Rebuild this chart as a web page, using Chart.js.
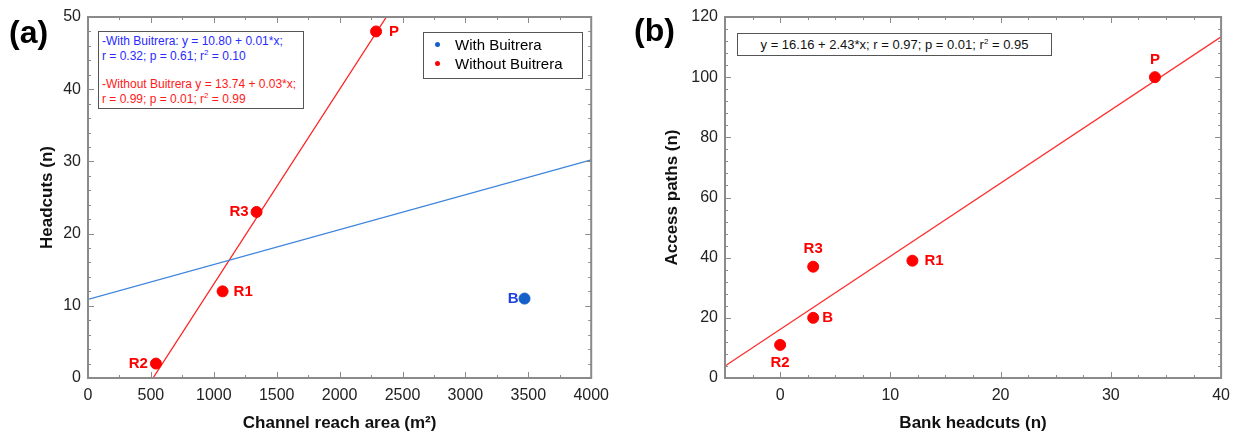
<!DOCTYPE html>
<html>
<head>
<meta charset="utf-8">
<script src="https://cdn.jsdelivr.net/npm/chart.js@4.4.0/dist/chart.umd.min.js"></script>
<style>
  body { margin: 0; background: #fff; font-family: "Liberation Sans", Arial, sans-serif; }
  #wrap { position: relative; width: 1238px; height: 438px; overflow: hidden; }
  canvas { position: absolute; top: 0; }
  .panel { position: absolute; font-weight: bold; font-size: 32px; line-height: 32px; color: #000; }
  .note { position: absolute; border: 1px solid #555; background: #fff; white-space: nowrap; }
  .note sup { font-size: 8px; vertical-align: 5px; line-height: 0; }
  .legend { position: absolute; border: 1px solid #555; background: #fff; font-size: 15px; }
  .legend div { position: relative; height: 19px; line-height: 19px; padding-left: 31px; }
  .legend span { position: absolute; left: 11px; top: 7px; width: 5px; height: 5px; border-radius: 50%; }
</style>
</head>
<body>
<div id="wrap">
  <canvas id="chartA" width="617" height="438" style="left:0"></canvas>
  <canvas id="chartB" width="618" height="438" style="left:620px"></canvas>

  <div class="panel" style="left:9px;top:16px">(a)</div>
  <div class="panel" style="left:634px;top:14px">(b)</div>

  <div class="note" style="left:98px;top:31px;width:204px;height:76px;font-size:12px;line-height:15px">
    <div style="color:#2a2aff;padding:2px 0 0 3px">-With Buitrera: y = 10.80 + 0.01*x;<br>r = 0.32; p = 0.61; r<sup>2</sup> = 0.10</div>
    <div style="color:#ff1a1a;padding:13px 0 0 3px">-Without Buitrera y = 13.74 + 0.03*x;<br>r = 0.99; p = 0.01; r<sup>2</sup> = 0.99</div>
  </div>

  <div class="legend" style="left:423px;top:32px;width:158px;height:43px;padding-top:2px">
    <div><span style="background:#1560c8"></span>With Buitrera</div>
    <div><span style="background:#ff0000"></span>Without Buitrera</div>
  </div>

  <div class="note" style="left:737px;top:33px;width:313px;height:21px;font-size:13px;line-height:21px;text-align:center;color:#111">
    y = 16.16 + 2.43*x; r = 0.97; p = 0.01; r<sup>2</sup> = 0.95
  </div>
</div>

<script>
// (a) headcuts vs channel reach area
var withNames = ["B"];
var withX = [3470];
var withY = [11];
var withoutNames = ["P", "R3", "R1", "R2"];
var withoutX = [2290, 1340, 1070, 540];
var withoutY = [48, 23, 12, 2];
var fitWithX = [0, 4000];
var fitWithY = [10.9, 30.2];
var fitWithoutX = [517, 2372];
var fitWithoutY = [0, 50];
var xTicksA = [0, 500, 1000, 1500, 2000, 2500, 3000, 3500, 4000];
var yTicksA = [0, 10, 20, 30, 40, 50];

// (b) access paths vs bank headcuts
var siteNames = ["R2", "B", "R3", "R1", "P"];
var headcutsX = [0, 3, 3, 12, 34];
var pathsY = [11, 20, 37, 39, 100];
var fitBX = [-5, 40];
var fitBY = [4, 113.4];
var xTicksB = [0, 10, 20, 30, 40];
var yTicksB = [0, 20, 40, 60, 80, 100, 120];

function pts(xs, ys) {
  return xs.map(function (x, i) { return { x: x, y: ys[i] }; });
}

// frame around plot area with inward major/minor ticks on all sides
var frameTicks = {
  id: "frameTicks",
  afterDraw: function (chart, args, opts) {
    var c = chart.ctx, a = chart.chartArea;
    var xs = chart.scales.x, ys = chart.scales.y;
    c.save();
    c.strokeStyle = "#8a8a8a";
    c.lineWidth = 1;
    c.beginPath();
    var v, p, len;
    for (v = xs.min; v <= xs.max + 1e-9; v += opts.xMinor) {
      p = Math.round(xs.getPixelForValue(v)) + 0.5;
      len = Math.abs(v / opts.xMajor - Math.round(v / opts.xMajor)) < 1e-6 ? 6 : 3;
      c.moveTo(p, a.bottom); c.lineTo(p, a.bottom - len);
      c.moveTo(p, a.top); c.lineTo(p, a.top + len);
    }
    for (v = ys.min; v <= ys.max + 1e-9; v += opts.yMinor) {
      p = Math.round(ys.getPixelForValue(v)) + 0.5;
      len = Math.abs(v / opts.yMajor - Math.round(v / opts.yMajor)) < 1e-6 ? 6 : 3;
      c.moveTo(a.left, p); c.lineTo(a.left + len, p);
      c.moveTo(a.right, p); c.lineTo(a.right - len, p);
    }
    c.stroke();
    c.lineWidth = 2;
    c.strokeStyle = "#8a8a8a";
    c.strokeRect(a.left, a.top, a.right - a.left, a.bottom - a.top);
    c.restore();
  }
};

// site names next to points
var siteLabels = {
  id: "siteLabels",
  afterDatasetsDraw: function (chart) {
    var c = chart.ctx;
    c.save();
    c.font = "bold 15px 'Liberation Sans', Arial, sans-serif";
    c.textBaseline = "middle";
    chart.data.datasets.forEach(function (ds, di) {
      if (!ds.names) return;
      var meta = chart.getDatasetMeta(di);
      meta.data.forEach(function (el, i) {
        var o = ds.offsets[i];
        c.fillStyle = ds.labelColor;
        c.textAlign = o[2];
        c.fillText(ds.names[i], el.x + o[0], el.y + o[1]);
      });
    });
    c.restore();
  }
};

function axes(xMin, xMax, xTicks, yMin, yMax, yTicks, xTitle, yTitle, yWidth, yTitlePad) {
  var tickFont = { family: "'Liberation Sans', Arial, sans-serif", size: 16 };
  var titleFont = { family: "'Liberation Sans', Arial, sans-serif", size: 17, weight: "bold" };
  var plain = function (v) { return String(v); };
  return {
    x: {
      type: "linear", min: xMin, max: xMax,
      grid: { display: false, drawTicks: false },
      border: { display: false },
      ticks: { padding: 8, color: "#222", font: tickFont, maxRotation: 0, callback: plain },
      afterBuildTicks: function (s) { s.ticks = xTicks.map(function (v) { return { value: v }; }); },
      afterFit: function (s) { s.height = 60; },
      title: { display: true, text: xTitle, color: "#111", font: titleFont, padding: { top: 0, bottom: 4 } }
    },
    y: {
      type: "linear", min: yMin, max: yMax,
      grid: { display: false, drawTicks: false },
      border: { display: false },
      ticks: { padding: 7, color: "#222", font: tickFont, callback: plain },
      afterBuildTicks: function (s) { s.ticks = yTicks.map(function (v) { return { value: v }; }); },
      afterFit: function (s) { s.width = yWidth; },
      title: { display: true, text: yTitle, color: "#111", font: titleFont, padding: { top: yTitlePad, bottom: 0 } }
    }
  };
}

document.addEventListener("DOMContentLoaded", function () {
  var ctxA = document.getElementById("chartA").getContext("2d");
  var chartA = new Chart(ctxA, {
    type: "scatter",
    data: {
      datasets: [
        {
          label: "With Buitrera",
          data: pts(withX, withY),
          backgroundColor: "#1560c8",
          borderColor: "#1560c8",
          pointRadius: 5.5,
          names: withNames,
          offsets: [[-6, 0, "right"]],
          labelColor: "#1f3fe0"
        },
        {
          label: "Without Buitrera",
          data: pts(withoutX, withoutY),
          backgroundColor: "#ff0000",
          borderColor: "#ff0000",
          pointRadius: 5.5,
          names: withoutNames,
          offsets: [[13, 0, "left"], [-8, 0, "right"], [11, 0, "left"], [-8, 0, "right"]],
          labelColor: "#ff0000"
        },
        {
          label: "fit with",
          data: pts(fitWithX, fitWithY),
          showLine: true,
          borderColor: "#3f86dc",
          borderWidth: 1.3,
          pointRadius: 0
        },
        {
          label: "fit without",
          data: pts(fitWithoutX, fitWithoutY),
          showLine: true,
          borderColor: "#ff2020",
          borderWidth: 1.3,
          pointRadius: 0
        }
      ]
    },
    options: {
      responsive: false,
      animation: false,
      layout: { padding: { left: 0, right: 19, top: 17, bottom: 0 } },
      plugins: {
        legend: { display: false },
        tooltip: { enabled: false },
        frameTicks: { xMinor: 250, xMajor: 500, yMinor: 2, yMajor: 10 }
      },
      scales: axes(0, 4000, xTicksA, 0, 50, yTicksA,
        "Channel reach area (m²)", "Headcuts (n)", 88, 37)
    },
    plugins: [frameTicks, siteLabels]
  });

  var ctxB = document.getElementById("chartB").getContext("2d");
  var chartB = new Chart(ctxB, {
    type: "scatter",
    data: {
      datasets: [
        {
          label: "Sites",
          data: pts(headcutsX, pathsY),
          backgroundColor: "#ff0000",
          borderColor: "#ff0000",
          pointRadius: 5.5,
          names: siteNames,
          offsets: [[0, 18, "center"], [9, 0, "left"], [0, -18, "center"], [12, 0, "left"], [0, -17, "center"]],
          labelColor: "#ff0000"
        },
        {
          label: "fit",
          data: pts(fitBX, fitBY),
          showLine: true,
          borderColor: "#ff3030",
          borderWidth: 1.3,
          pointRadius: 0
        }
      ]
    },
    options: {
      responsive: false,
      animation: false,
      layout: { padding: { left: 0, right: 16, top: 17, bottom: 0 } },
      plugins: {
        legend: { display: false },
        tooltip: { enabled: false },
        frameTicks: { xMinor: 2.5, xMajor: 10, yMinor: 4, yMajor: 20 }
      },
      scales: axes(-5, 40, xTicksB, 0, 120, yTicksB,
        "Bank headcuts (n)", "Access paths (n)", 105, 42)
    },
    plugins: [frameTicks, siteLabels]
  });
});
</script>
</body>
</html>
